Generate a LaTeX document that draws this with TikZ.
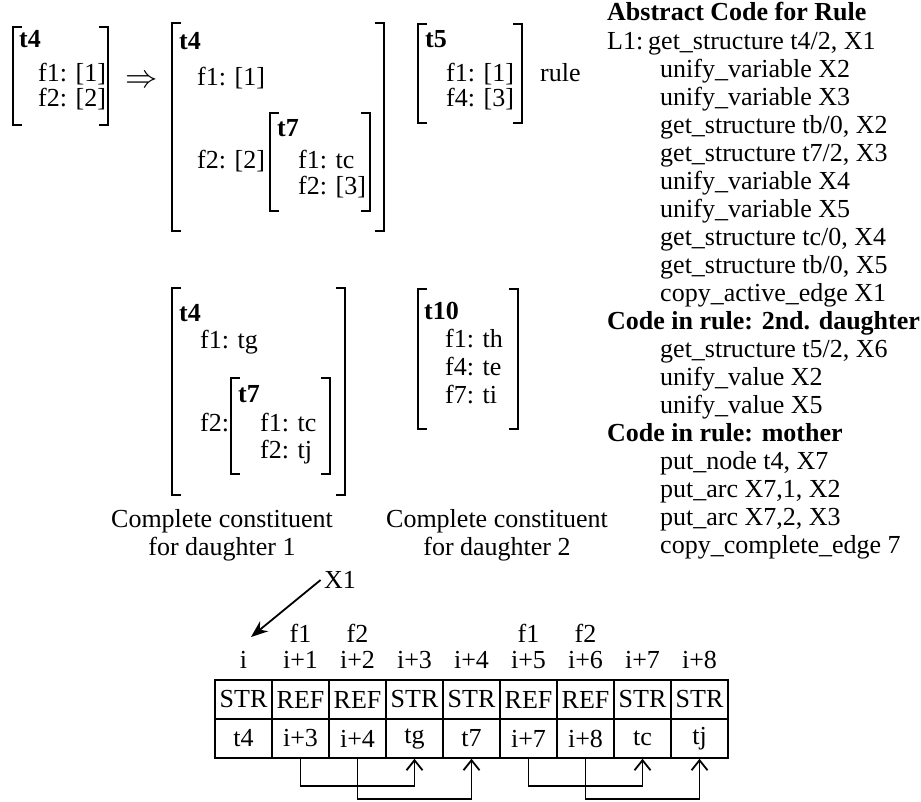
\documentclass[tikz,border=0pt]{standalone}
\usepackage{fontspec}
\setmainfont{Liberation Serif}
\usetikzlibrary{arrows.meta}

\tikzset{
  brak/.style={line width=1.6pt},
  txt/.style={anchor=west, inner sep=0pt, text height=16pt, text depth=4.5pt},
  cell/.style={draw, line width=1.6pt, minimum width=57pt, minimum height=39pt, inner sep=0pt},
  link/.style={line width=1.6pt, -{Straight Barb[length=10pt,width=16pt,line width=1.8pt]}},
  ptr/.style={line width=1.8pt, -{Stealth[length=17pt,width=13pt]}}
}

% pair of AVM brackets: left x, top y, right x, bottom y
\newcommand{\avmbrak}[4]{
  \draw[brak] (#1+9,#2) -- (#1,#2) -- (#1,#4) -- (#1+9,#4);
  \draw[brak] (#3-9,#2) -- (#3,#2) -- (#3,#4) -- (#3-9,#4);
}

\begin{document}
\begin{tikzpicture}[x=1pt, y=-1pt, every node/.style={font=\fontsize{26}{28}\selectfont}]
    \useasboundingbox (0,0) rectangle (921,802);

    % input structure
    \avmbrak{13}{27}{108}{125}
    \node[txt] (a-t) at (19,42) {\textbf{t4}};
    \node[txt] (a-f1) at (38,76) {f1: [1]};
    \node[txt] (a-f2) at (38,101) {f2: [2]};
    \node (arr) at (142,82) {\scalebox{1.3}{$\Rightarrow$}};

    % active edge
    \avmbrak{172}{23}{384}{231}
    \node[txt] (b-t) at (179,44) {\textbf{t4}};
    \node[txt] (b-f1) at (197,80) {f1: [1]};
    \node[txt] (b-f2) at (197,163) {f2: [2]};
    \avmbrak{270}{113}{370}{211}
    \node[txt] (b-t7) at (277,131) {\textbf{t7}};
    \node[txt] (b-g1) at (298,163) {f1: tc};
    \node[txt] (b-g2) at (298,189) {f2: [3]};

    \avmbrak{418}{24}{522}{123}
    \node[txt] (r-t) at (425,42) {\textbf{t5}};
    \node[txt] (r-f1) at (446,76) {f1: [1]};
    \node[txt] (r-f4) at (446,101) {f4: [3]};
    \node[txt] (rule) at (540,76) {rule};

    % complete constituents
    \avmbrak{172}{288}{345}{495}
    \node[txt] (c-t) at (179,316) {\textbf{t4}};
    \node[txt] (c-f1) at (200,343) {f1: tg};
    \node[txt] (c-f2) at (200,426) {f2:};
    \avmbrak{231}{378}{330}{474}
    \node[txt] (c-t7) at (238,397) {\textbf{t7}};
    \node[txt] (c-g1) at (260,426) {f1: tc};
    \node[txt] (c-g2) at (260,453) {f2: tj};

    \avmbrak{418}{289}{518}{429}
    \node[txt] (d-t) at (424,314) {\textbf{t10}};
    \node[txt] (d-f1) at (445,342) {f1: th};
    \node[txt] (d-f4) at (445,370) {f4: te};
    \node[txt] (d-f7) at (445,398) {f7: ti};

    \node[align=center] (cap1) at (222,535) {Complete constituent\\for daughter 1};
    \node[align=center] (cap2) at (497,535) {Complete constituent\\for daughter 2};

    % abstract code
    \node[txt] (title) at (607,15) {\textbf{Abstract Code for Rule}};
    \node[txt] (l1) at (607,44) {L1:};
    \node[txt] (code1) at (648,44) {get\_structure t4/2, X1};
    \foreach \txt [count=\k from 2] in {{unify\_variable X2}, {unify\_variable X3},
        {get\_structure tb/0, X2}, {get\_structure t7/2, X3}, {unify\_variable X4},
        {unify\_variable X5}, {get\_structure tc/0, X4}, {get\_structure tb/0, X5},
        {copy\_active\_edge X1}}
      \node[txt] (code\k) at (660,16+28*\k) {\txt};
    \node[txt] (hd2) at (607,324) {\textbf{Code in rule: 2nd. daughter}};
    \foreach \txt [count=\k from 12] in {{get\_structure t5/2, X6}, {unify\_value X2},
        {unify\_value X5}}
      \node[txt] (code\k) at (660,16+28*\k) {\txt};
    \node[txt] (hdm) at (607,436) {\textbf{Code in rule: mother}};
    \foreach \txt [count=\k from 16] in {{put\_node t4, X7}, {put\_arc X7,1, X2},
        {put\_arc X7,2, X3}, {copy\_complete\_edge 7}}
      \node[txt] (code\k) at (660,16+28*\k) {\txt};

    % heap cells
    \foreach \idx/\tag/\val [count=\k from 0] in {i/STR/t4, i+1/REF/i+3, i+2/REF/i+4,
        i+3/STR/tg, i+4/STR/t7, i+5/REF/i+7, i+6/REF/i+8, i+7/STR/tc, i+8/STR/tj} {
      \node (idx\k) at (243.5+57*\k,660) {\idx};
      \node[cell] (tag\k) at (243.5+57*\k,699.5) {\tag};
      \node[cell] (val\k) at (243.5+57*\k,738.5) {\val};
    }
    \node (f1a) at (300.5,633) {f1};
    \node (f2a) at (357.5,633) {f2};
    \node (f1b) at (528.5,633) {f1};
    \node (f2b) at (585.5,633) {f2};

    \node (x1) at (340,580) {X1};
    \coordinate (xtip) at (251,637);
    \draw[ptr] (x1.west) -- (xtip);

    \draw[link] (val1.south) -- ++(0,27) -| (val3.south);
    \draw[link] (val2.south) -- ++(0,40) -| (val4.south);
    \draw[link] (val5.south) -- ++(0,27) -| (val7.south);
    \draw[link] (val6.south) -- ++(0,40) -| (val8.south);
\end{tikzpicture}
\end{document}
